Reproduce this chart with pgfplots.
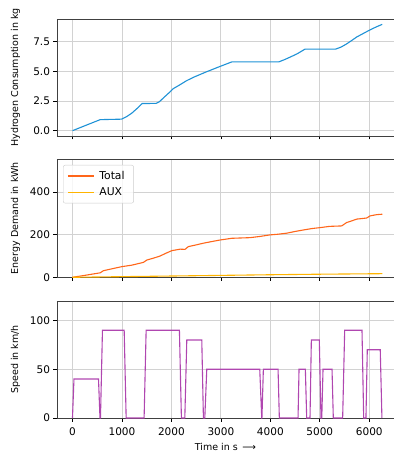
\documentclass[border=0pt]{standalone}
\usepackage{fontspec}
\setmainfont{DejaVu Sans}
\usepackage{pgfplots}
\pgfplotsset{compat=1.18}

\definecolor{hblue}{RGB}{31,146,214}
\definecolor{totalc}{RGB}{255,102,26}
\definecolor{auxc}{RGB}{255,180,0}
\definecolor{speedc}{RGB}{176,70,176}
\definecolor{gridc}{RGB}{210,210,210}

\pgfplotsset{
  panel/.style={
    scale only axis,
    width=337pt, height=117pt,
    xmin=-313, xmax=6500,
    axis x line*=box, axis y line*=left,
    x axis line style={-}, y axis line style={-},
    axis line style={black!75, line width=0.8pt},
    xtick={0,1000,...,6000},
    tick align=outside,
    major tick length=3.5pt,
    tick style={black, line width=0.7pt},
    xtick pos=bottom, ytick pos=left,
    grid=major,
    major grid style={gridc, line width=0.8pt},
    /pgf/number format/1000 sep={},
    /pgf/number format/assume math mode=true,
    scaled ticks=false,
    tick label style={font=\fontsize{10.5}{12}\selectfont},
    xticklabel style={yshift=-3pt},
    label style={font=\fontsize{9.5}{11}\selectfont},
    ylabel style={at={(axis description cs:-0.123,0.5)}, anchor=center},
  },
}

\begin{document}
\begin{tikzpicture}[x=1pt,y=1pt]
\useasboundingbox (0,0) rectangle (394,456);

% hydrogen consumption
\begin{axis}[panel, at={(57pt,320pt)}, anchor=south west,
  ymin=-0.45, ymax=9.42,
  ytick={0,2.5,5,7.5},
  yticklabel style={/pgf/number format/fixed, /pgf/number format/fixed zerofill, /pgf/number format/precision=1},
  xticklabels={},
  ylabel={Hydrogen Consumption in kg}]
\addplot[hblue, line width=1.1pt] coordinates {
 (0,0) (560,0.93) (990,0.97) (1100,1.2) (1200,1.48) (1300,1.85) (1410,2.29)
 (1690,2.30) (1760,2.45) (1840,2.77) (1940,3.15) (2040,3.55) (2176,3.88)
 (2300,4.2) (2445,4.5) (2700,4.95) (2984,5.42) (3220,5.80) (4170,5.80)
 (4280,5.98) (4398,6.2) (4550,6.5) (4701,6.88) (5320,6.88) (5430,7.05)
 (5543,7.32) (5650,7.62) (5745,7.90) (5880,8.2) (6014,8.5) (6140,8.75) (6263,8.97)
};
\end{axis}

% energy demand
\begin{axis}[panel, at={(57pt,178.7pt)}, anchor=south west, height=118.3pt,
  ymin=0, ymax=555,
  ytick={0,200,400},
  xticklabels={},
  ylabel={Energy Demand in kWh},
  legend style={at={(0.018,0.95)}, anchor=north west, draw=black!20,
    rounded corners=2pt, fill=white, fill opacity=0.8, text opacity=1,
    font=\fontsize{10.8}{13}\selectfont, row sep=3pt, inner xsep=4pt, inner ysep=4pt,
    nodes={inner xsep=5pt}},
  legend cell align=left,
  legend image code/.code={\draw[#1] (0pt,0pt) -- (26pt,0pt);}]
\addplot[totalc, line width=1.1pt] coordinates {
 (0,0) (300,11) (560,21) (626,31) (800,40) (998,50) (1200,57) (1434,70)
 (1503,81) (1640,90) (1772,100) (1900,114) (2008,125) (2176,132) (2275,131)
 (2343,144) (2500,152) (2646,160) (2800,167) (2984,175) (3220,183) (3590,186)
 (3800,192) (3994,199) (4150,202) (4331,207) (4500,215) (4667,222) (4850,229)
 (5004,233) (5200,239) (5442,241) (5543,257) (5650,265) (5745,273) (5947,278)
 (6014,288) (6150,294) (6263,296)
};
\addlegendentry{Total}
\addplot[auxc, line width=1.1pt] coordinates {
 (0,0) (1000,3) (2000,6) (3000,9) (4000,12) (5000,14.5) (6263,17)
};
\addlegendentry{AUX}
\end{axis}

% vehicle speed
\begin{axis}[panel, at={(57pt,38pt)}, anchor=south west,
  ymin=0, ymax=120,
  ytick={0,50,100},
  xlabel={Time in s \,⟶},
  ylabel={Speed in km/h}]
\addplot[speedc, line width=1.1pt] coordinates {
 (0,0) (30,40) (526,40) (556,0) (566,0) (606,90) (1045,90) (1085,0)
 (1448,0) (1489,90) (2162,90) (2202,0) (2271,0) (2311,80) (2614,80)
 (2647,0) (2675,0) (2715,50) (3786,50) (3826,0) (3830,0) (3859,50)
 (4156,50) (4182,0) (4560,0) (4580,50) (4708,50) (4735,0) (4802,0)
 (4829,80) (4990,80) (5024,0) (5040,0) (5065,50) (5247,50) (5273,0)
 (5462,0) (5503,90) (5853,90) (5887,0) (5933,0) (5960,70) (6222,70) (6256,0)
};
\end{axis}
\end{tikzpicture}
\end{document}
